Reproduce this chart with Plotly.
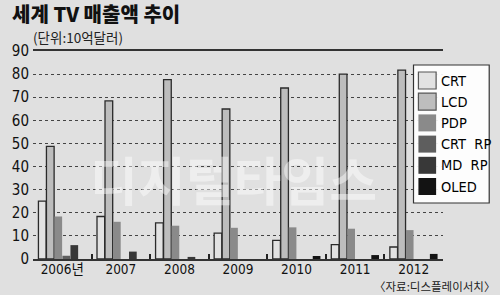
import plotly.graph_objects as go

years = ["2006년", "2007", "2008", "2009", "2010", "2011", "2012"]
series_names = ["CRT", "LCD", "PDP", "CRT  RP", "MD  RP", "OLED"]
crt = [25.0, 18.4, 15.6, 11.2, 8.1, 6.2, 5.2]
lcd = [48.7, 68.4, 77.6, 64.9, 74.0, 80.0, 81.7]
pdp = [18.4, 16.1, 14.4, 13.5, 13.7, 13.1, 12.5]
crt_rp = [1.4, 0, 0, 0, 0, 0, 0]
md_rp = [6.0, 3.2, 0.9, 0, 0, 0, 0]
oled = [0, 0, 0, 0, 1.3, 1.7, 2.2]
y_ticks = [0, 10, 20, 30, 40, 50, 60, 70, 80, 90]

series = [crt, lcd, pdp, crt_rp, md_rp, oled]
fills = ["#e2e2e2", "#bdbdbd", "#8a8a8a", "#5e5e5e", "#383838", "#131313"]
outlines = ["#2a2a2a", "#2a2a2a", "#8a8a8a", "#5e5e5e", "#383838", "#131313"]
outline_w = [1.3, 1.3, 0, 0, 0, 0]

NARROW = "DejaVu Sans Condensed, Liberation Sans, Noto Sans CJK KR, sans-serif"

W, H = 500, 295
L, R, T, B = 26, 443, 51, 259

def px(x):
    return (x - L) / (R - L)

def py(y):
    return (B - y) / (B - T)

fig = go.Figure()
for name, vals, fc, lc, lw in zip(series_names, series, fills, outlines, outline_w):
    fig.add_trace(go.Bar(
        x=years, y=vals, name=name,
        marker=dict(color=fc, line=dict(color=lc, width=lw)),
        showlegend=False,
    ))

shapes = []
annotations = []

# custom legend
shapes.append(dict(type="rect", xref="paper", yref="paper",
                   x0=px(413), x1=px(490), y0=py(65), y1=py(203),
                   fillcolor="rgba(255,255,255,0.92)", line=dict(color="#333", width=1.2)))
for i, (name, fc) in enumerate(zip(series_names, fills)):
    top = 72 + i * 21.2
    shapes.append(dict(type="rect", xref="paper", yref="paper",
                       x0=px(418), x1=px(436), y0=py(top), y1=py(top + 17),
                       fillcolor=fc,
                       line=dict(color="#555" if i < 2 else fc, width=1.2 if i < 2 else 0)))
    annotations.append(dict(xref="paper", yref="paper", x=px(439), y=py(top + 8.5),
                            text=name, showarrow=False, xanchor="left", yanchor="middle",
                            font=dict(family=NARROW, size=14.5, color="#000")))

# watermark
annotations.append(dict(xref="paper", yref="paper", x=px(230), y=py(178),
                        text="<b>디지털타임스</b>", showarrow=False,
                        font=dict(family="Noto Sans CJK KR", size=52, color="rgba(255,255,255,0.45)")))

# title & notes
annotations.append(dict(xref="paper", yref="paper", x=px(3), y=py(13),
                        text="세계 TV 매출액 추이", showarrow=False,
                        xanchor="left", yanchor="middle",
                        font=dict(family="Noto Sans CJK KR Black, Noto Sans CJK KR", size=20,
                                  color="#111", weight=900)))
annotations.append(dict(xref="paper", yref="paper", x=px(24), y=py(37),
                        text="(단위:10억달러)", showarrow=False,
                        xanchor="left", yanchor="middle",
                        font=dict(family="Noto Sans CJK KR", size=13.5, color="#222")))
annotations.append(dict(xref="paper", yref="paper", x=px(498), y=py(286),
                        text="〈자료:디스플레이서치〉", showarrow=False,
                        xanchor="right", yanchor="middle",
                        font=dict(family="Noto Sans CJK KR", size=11.5, color="#222")))

fig.update_layout(
    width=W, height=H,
    margin=dict(l=L, r=W - R, t=T, b=H - B),
    paper_bgcolor="#e0e0e0",
    plot_bgcolor="rgba(0,0,0,0)",
    barmode="group",
    bargap=0.18,
    bargroupgap=0.04,
    shapes=shapes,
    annotations=annotations,
    font=dict(family=NARROW, color="#111"),
)
fig.update_xaxes(
    showline=True, mirror=True, linecolor="#333", linewidth=1.6,
    ticks="inside", tickson="boundaries", ticklen=5, tickwidth=2, tickcolor="#222",
    showgrid=False, tickfont=dict(family=NARROW, size=13.5, color="#111"),
    ticklabelstandoff=-3,
)
fig.update_yaxes(
    range=[0, 90], tickvals=y_ticks, showgrid=True,
    gridcolor="#444", griddash="dot", gridwidth=1,
    zeroline=False, showline=False, ticks="",
    tickfont=dict(family=NARROW, size=15, color="#111"), ticklabelstandoff=3,
)

fig.write_html("out.html")
